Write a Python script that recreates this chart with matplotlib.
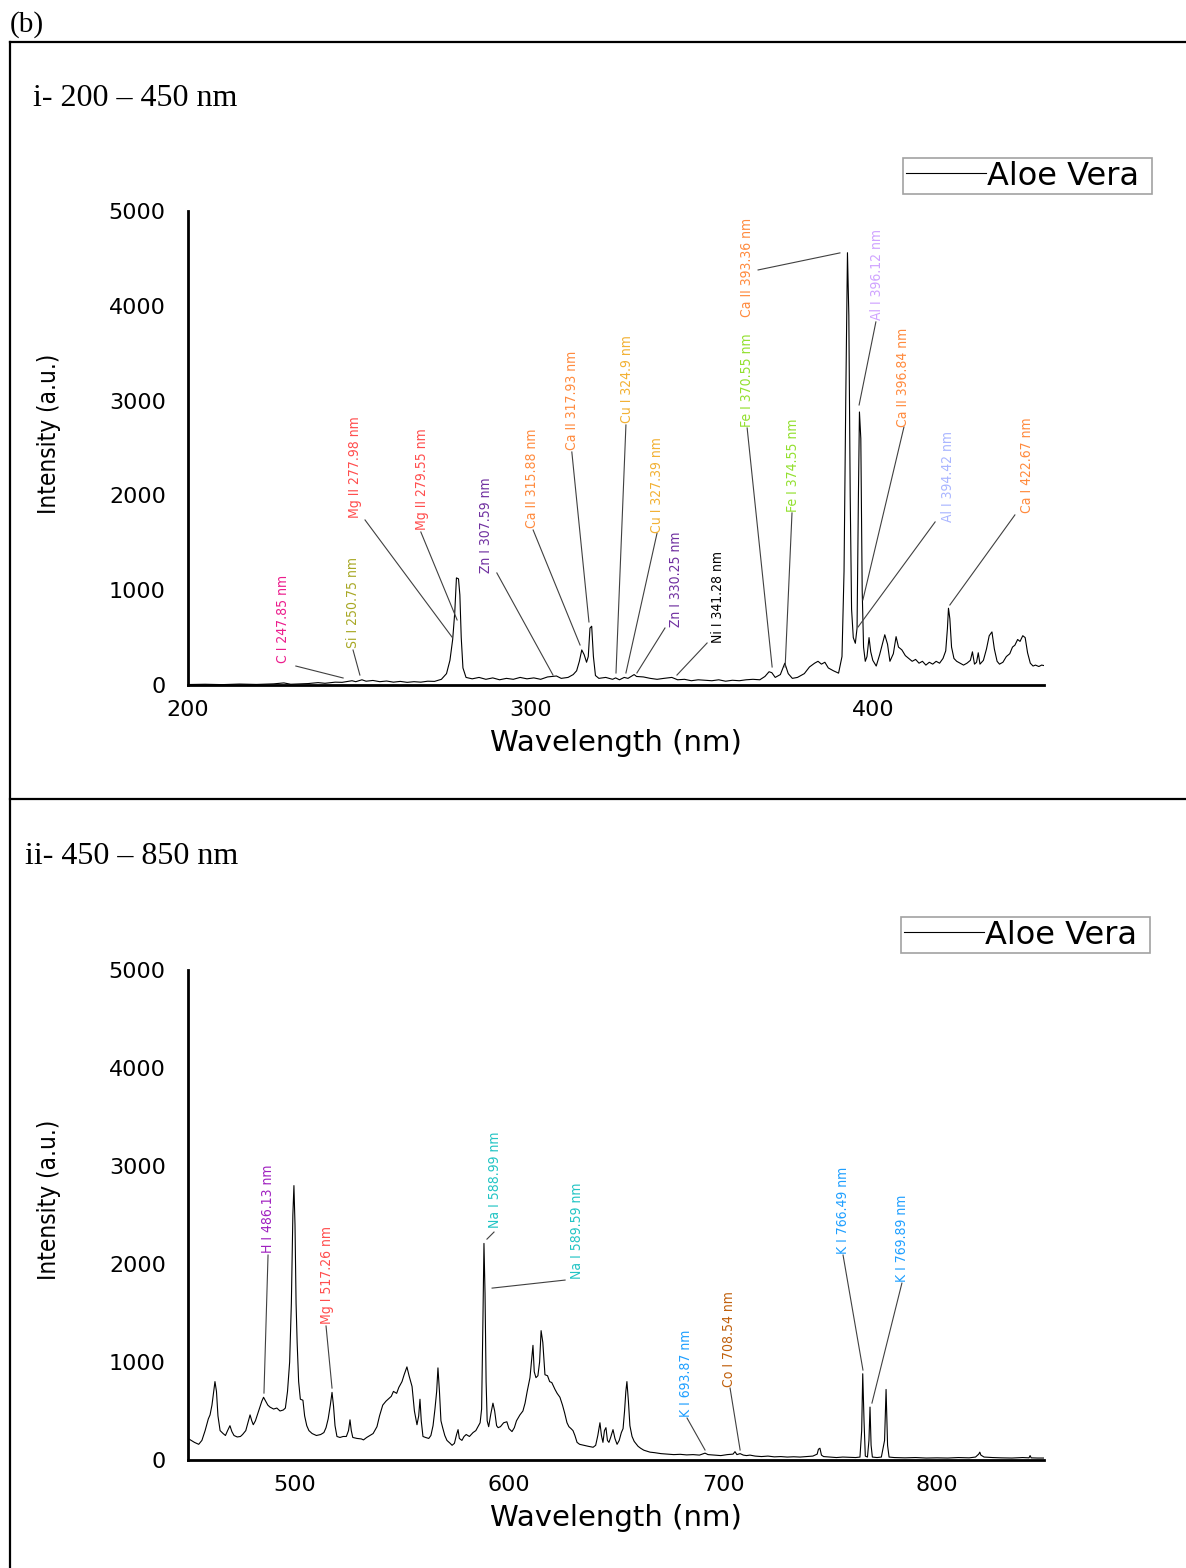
"""
  LIBS emission spectrum of Aloe Vera, two wavelength ranges
"""

import matplotlib
matplotlib.use("Agg")
import matplotlib.pyplot as plt
from matplotlib.lines import Line2D

W, H = 1186, 1568

# ------------------------------------------------------------------ data ----
top_wl = [200, 205, 210, 215, 220, 225, 228, 230, 235, 238, 240, 243, 245, 247.9, 249, 250.8, 252, 254, 256,
          258, 260, 262, 264, 266, 268, 270, 272, 274, 275.5, 276.5, 277.3, 277.9, 278.4, 279.0, 279.4, 279.8,
          280.3, 281.2, 283, 285, 287, 289, 291, 293, 295, 297, 299, 301, 303, 305, 307.6, 309, 311, 312.5,
          313.5, 314.3, 315.0, 315.7, 316.4, 316.9, 317.4, 317.9, 318.4, 319.0, 320, 322, 324, 324.9, 326,
          327.4, 328.5, 330.3, 331, 333, 335, 337, 339, 341.3, 343, 345, 347, 349, 351, 353, 355, 357, 359,
          361, 363, 365, 367, 368.5, 369.7, 370.5, 371.5, 373, 374.3, 375.3, 376.5, 378, 380, 381.5, 383,
          384, 385, 386, 387, 388.5, 390, 391, 391.6, 392.1, 392.6, 393.0, 393.4, 393.8, 394.3, 394.9, 395.4,
          395.8, 396.1, 396.5, 396.9, 397.3, 397.8, 398.3, 398.9, 399.4, 400, 401, 402, 403.5, 404.3, 405,
          406, 406.8, 407.5, 408.5, 409.5, 410.5, 411.5, 412.5, 413.5, 414.5, 415.5, 416.5, 417.5, 418.5,
          419.5, 420.5, 421.3, 421.8, 422.1, 422.5, 423, 423.7, 424.5, 425.5, 426.5, 427.5, 428.5, 429.1,
          429.7, 430.3, 430.8, 431.3, 432.3, 433.2, 434, 434.8, 435.5, 436.3, 437, 438, 439, 440, 440.8,
          441.5, 442.3, 443, 443.8, 444.5, 445.2, 446, 446.8, 447.5, 448.5, 449.3, 450]
top_int = [5, 8, 4, 10, 6, 12, 22, 8, 15, 25, 18, 30, 28, 45, 35, 55, 40, 48, 35,
           42, 30, 38, 28, 35, 30, 40, 38, 60, 120, 260, 480, 760, 1130, 1120, 950, 500,
           180, 80, 65, 80, 60, 75, 55, 70, 60, 80, 65, 75, 60, 85, 95, 70, 80, 110,
           150, 250, 370, 320, 240, 300, 600, 620, 300, 100, 70, 80, 60, 75, 55,
           80, 70, 110, 90, 85, 70, 60, 70, 80, 55, 60, 45, 55, 50, 45, 55, 40, 50,
           45, 55, 60, 55, 90, 140, 130, 80, 110, 230, 120, 70, 80, 120, 190, 230,
           250, 220, 240, 180, 150, 125, 300, 1200, 3000, 4560, 3900, 2000, 800, 500, 440, 600,
           2000, 2880, 2600, 1000, 400, 250, 300, 500, 350, 260, 200, 320, 530, 430, 250,
           330, 510, 400, 370, 310, 280, 250, 270, 230, 250, 210, 240, 220, 250,
           230, 280, 360, 600, 810, 700, 400, 280, 250, 230, 210, 230, 260, 350,
           220, 240, 340, 220, 260, 380, 520, 560, 380, 250, 220, 240, 300, 330, 400,
           420, 480, 460, 520, 500, 340, 230, 200, 210, 195, 210, 205]

bot_wl = [450, 451.5, 453, 455, 456.5, 458, 459.5, 460.3, 461.2, 462, 462.6, 463.3, 464, 465, 466.4, 467.5,
          468.5, 469.6, 470.5, 471.5, 473, 474.5, 475.5, 477, 478, 479, 479.8, 480.5, 481.5, 483, 484.5,
          485.3, 486.3, 487.3, 488.3, 490, 491.5, 493, 494.5, 495.5, 496.5, 497.5, 498.3, 499, 499.5, 500,
          500.5, 501, 501.7, 502.5, 503.7, 504.5, 505.5, 506.5, 508, 510, 512, 513.5, 514.5, 515.5, 516.5,
          517.3, 518, 518.7, 519.6, 521, 522.5, 524, 525, 525.7, 526.3, 527, 529, 531, 532, 533.5, 535,
          536.5, 538.3, 539.5, 541, 542.5, 543.5, 545, 546, 547.5, 548.5, 550, 551, 552.3, 553.3, 554.7,
          555.8, 557, 557.8, 558.4, 559, 559.8, 561, 562.5, 563.5, 564.5, 565.4, 566.2, 566.8, 567.5, 568.2,
          569, 570, 571, 572.5, 573.4, 574.5, 575.5, 576.2, 576.8, 578, 579, 580, 581.5, 583.2, 584.5,
          585.5, 586.5, 587.2, 587.8, 588.3, 588.8, 589.3, 589.8, 590.5, 591.5, 592.5, 593.3, 594.2, 594.9,
          596, 597.5, 599, 600, 601.4, 602.5, 603.5, 605.1, 606.5, 607.5, 608.5, 609.8, 610.5, 611.2,
          611.8, 612.6, 613.5, 614.3, 615, 615.8, 616.8, 618, 619, 620, 621.5, 622.5, 623.8, 625, 626,
          627.1, 628, 629, 629.9, 630.8, 631.8, 633, 635, 637, 639.3, 640.5, 641.5, 642.5, 643.2, 643.9,
          644.6, 645.3, 646, 646.7, 647.5, 648.6, 649.5, 650.5, 651.5, 652.5, 653.3, 654, 654.6, 655.1,
          655.8, 656.5, 657.5, 658.5, 660.3, 661.5, 663, 665.9, 668, 671, 673.8, 677, 680, 683, 686, 689,
          691.6, 693, 696, 699, 702, 704.7, 705.6, 706.5, 708, 709.5, 711, 712.6, 715, 718, 721, 724, 727,
          730, 733, 736, 739, 742, 744, 744.6, 745.3, 746, 747, 750, 753, 756, 759, 762, 764, 764.8, 765.3,
          765.9, 766.5, 767.5, 768.2, 768.7, 769.2, 769.8, 772, 774, 775.5, 776.2, 776.9, 777.6, 780, 785,
          790, 795, 800, 805, 810, 815, 818, 819.5, 820, 820.5, 822, 826, 830, 835, 840, 843, 843.5, 844,
          847, 850]
bot_int = [220, 200, 180, 160, 200, 300, 420, 460, 560, 700, 800, 700, 450, 300, 270, 250,
           300, 350, 290, 250, 235, 240, 260, 300, 380, 460, 400, 360, 400, 500, 600,
           640, 600, 560, 540, 520, 530, 500, 510, 530, 700, 1000, 1600, 2500, 2800, 2400,
           1600, 1200, 800, 620, 610, 450, 350, 300, 270, 250, 260, 280, 330, 420, 560,
           690, 550, 350, 240, 230, 240, 240, 300, 410, 300, 230, 220, 215, 205, 230, 250,
           270, 340, 450, 560, 600, 620, 650, 700, 680, 740, 800, 870, 950, 860, 750,
           500, 360, 450, 620, 400, 240, 230, 220, 250, 350, 520, 700, 940, 700, 400,
           330, 250, 200, 170, 150, 170, 260, 310, 220, 200, 240, 260, 240, 280, 300,
           340, 380, 520, 1400, 2210, 1700, 800, 400, 340, 470, 580, 500, 350, 330,
           340, 380, 390, 320, 290, 330, 400, 460, 500, 580, 700, 840, 1000, 1170,
           900, 840, 860, 1000, 1320, 1200, 870, 860, 800, 790, 720, 680, 640, 560, 480,
           380, 340, 320, 300, 250, 180, 160, 150, 140, 130, 150, 250, 380, 250, 180,
           300, 330, 200, 180, 230, 310, 220, 160, 200, 280, 320, 500, 700, 800,
           600, 350, 240, 190, 140, 120, 100, 80, 75, 65, 60, 55, 58, 52, 55, 50,
           70, 55, 50, 45, 55, 60, 85, 55, 65, 50, 45, 50, 40, 35, 40, 32, 35,
           30, 33, 30, 35, 40, 60, 110, 120, 50, 35, 30, 25, 30, 28, 25, 30, 300, 880,
           400, 40, 30, 200, 540, 150, 30, 25, 30, 200, 720, 150, 30, 25, 22,
           25, 20, 22, 20, 25, 22, 30, 60, 80, 50, 30, 25, 22, 20, 25, 22, 45, 22,
           20, 20]

# emission line identifications: text, colour, point on the spectrum the leader goes to
top_lines = ["C I 247.85 nm", "Si I 250.75 nm", "Mg II 277.98 nm", "Mg II 279.55 nm", "Zn I 307.59 nm",
             "Ca II 315.88 nm", "Ca II 317.93 nm", "Cu I 324.9 nm", "Cu I 327.39 nm", "Zn I 330.25 nm",
             "Ni I 341.28 nm", "Fe I 370.55 nm", "Fe I 374.55 nm", "Ca II 393.36 nm", "Al I 396.12 nm",
             "Ca II 396.84 nm", "Al I 394.42 nm", "Ca I 422.67 nm"]
top_colors = ["#ec1c8c", "#a8a825", "#ff4d4d", "#ff4d4d", "#7030a0",
              "#ff8a3d", "#ff8a3d", "#f2b134", "#f2b134", "#7030a0",
              "#000000", "#92e02e", "#92e02e", "#ff8a3d", "#cfa3ff",
              "#ff8a3d", "#aab6ff", "#ff8a3d"]
top_tips = [(245.3, 74), (250.2, 105), (277.1, 506), (278.6, 686), (306.6, 105),
            (314.5, 422), (317.1, 665), (325.0, 127), (327.9, 127), (331.1, 127),
            (342.8, 105), (370.6, 190), (374.4, 190), (390.4, 4558), (396.0, 2954),
            (397.1, 897), (395.7, 612), (422.5, 844)]

bot_lines = ["H I 486.13 nm", "Mg I 517.26 nm", "Na I 588.99 nm", "Na I 589.59 nm",
             "K I 693.87 nm", "Co I 708.54 nm", "K I 766.49 nm", "K I 769.89 nm"]
bot_colors = ["#a020c0", "#ff4d4d", "#22c4c4", "#22c4c4",
              "#1e9fff", "#c0600c", "#1e9fff", "#1e9fff"]
bot_tips = [(485.5, 683), (517.3, 734), (589.7, 2254), (592.1, 1754),
            (691.6, 102), (708.0, 102), (765.4, 918), (769.6, 581)]

# layout: label anchor (centre-bottom of rotated text) and leader start, data coords
top_label_pos = [(227.7, 232), (248.2, 390), (248.8, 1762), (268.3, 1635), (287.0, 1182),
                 (300.5, 1656), (312.1, 2479), (328.2, 2764), (337.0, 1604), (342.5, 612),
                 (354.8, 443), (363.3, 2722), (376.7, 1825), (363.3, 3882), (401.2, 3851),
                 (408.8, 2722), (422.0, 1720), (445.0, 1815)]
top_lead_start = [(231.5, 200), (248.2, 369), (251.7, 1741), (268.0, 1614), (290.2, 1182),
                  (300.8, 1635), (312.1, 2458), (327.9, 2743), (337.0, 1604), (339.3, 601),
                  (351.6, 443), (363.3, 2711), (376.4, 1815), (366.5, 4378), (400.9, 3830),
                  (409.1, 2722), (418.2, 1720), (441.5, 1794)]
bot_label_pos = [(487.4, 2111), (515.0, 1387), (593.5, 2366), (631.8, 1846),
                 (682.7, 439), (702.8, 745), (756.1, 2101), (783.6, 1816)]
bot_lead_start = [(487.4, 2091), (514.5, 1367), (593.0, 2326), (626.2, 1836),
                  (683.2, 428), (703.3, 734), (756.1, 2091), (783.6, 1805)]

COND = dict(family="DejaVu Sans", stretch="condensed")


def plot_panel(ax, wl, inten, lines, colors, tips, label_pos, lead_start, xlim, xticks, leg_box):
  # trailing space gives the right-hand padding the legend box has
  ax.plot(wl, inten, color="black", linewidth=0.8, label="Aloe Vera ")
  for txt, col, tip, pos, st in zip(lines, colors, tips, label_pos, lead_start):
    ax.plot([st[0], tip[0]], [st[1], tip[1]], color="#404040", linewidth=0.8)
    ax.text(pos[0], pos[1], txt, rotation=90, ha="center", va="bottom", color=col,
            fontsize=10, **COND)
  ax.set_xlim(xlim)
  ax.set_ylim((0, 5000))
  ax.set_xticks(xticks)
  ax.set_yticks((0, 1000, 2000, 3000, 4000, 5000))
  ax.tick_params(length=0, labelsize=16)
  ax.tick_params(axis="x", pad=11)
  ax.tick_params(axis="y", pad=16)
  for s in ("top", "right"):
    ax.spines[s].set_visible(False)
  for s in ("left", "bottom"):
    ax.spines[s].set_linewidth(2)
  ax.set_xlabel("Wavelength (nm)", fontsize=21, labelpad=6)
  ax.set_ylabel("Intensity (a.u.)", fontsize=17.5, **COND)
  ax.yaxis.set_label_coords(-0.148, 0.53)
  leg = ax.legend(loc="upper right", bbox_to_anchor=leg_box, bbox_transform=ax.figure.transFigure,
                  fontsize=23, handlelength=2.5, handletextpad=0.05, borderpad=0.08,
                  borderaxespad=0, frameon=True, fancybox=False)
  leg.get_frame().set_edgecolor("#8a8a8a")
  leg.get_frame().set_linewidth(1.2)
  leg.get_lines()[0].set_linewidth(0.8)


fig = plt.figure(figsize=(W / 100, H / 100), dpi=100)

ax1 = fig.add_axes([188 / W, 1 - 685 / H, (1044 - 188) / W, (685 - 211) / H])
plot_panel(ax1, top_wl, top_int, top_lines, top_colors, top_tips, top_label_pos, top_lead_start,
           (200, 450), (200, 300, 400), (1152 / W, 1 - 158 / H))

ax2 = fig.add_axes([188 / W, 1 - 1460 / H, (1044 - 188) / W, (1460 - 970) / H])
plot_panel(ax2, bot_wl, bot_int, bot_lines, bot_colors, bot_tips, bot_label_pos, bot_lead_start,
           (450, 850), (500, 600, 700, 800), (1150 / W, 1 - 917 / H))

# outer frame of the composite figure
for xs, ys in (([10, W], [42, 42]), ([10, 10], [42, H]), ([10, W], [799, 799])):
  fig.add_artist(Line2D([x / W for x in xs], [1 - y / H for y in ys], color="black", linewidth=1.6))

SERIF = ["Liberation Serif", "DejaVu Serif"]
fig.text(10 / W, 1 - 25 / H, "(b)", family=SERIF, fontsize=21, va="center", ha="left")
fig.text(33 / W, 1 - 98 / H, "i- 200 \u2013 450 nm", family=SERIF, fontsize=23, va="center", ha="left")
fig.text(25 / W, 1 - 856 / H, "ii- 450 \u2013 850 nm", family=SERIF, fontsize=23, va="center", ha="left")

fig.savefig("out.png", dpi=100)
